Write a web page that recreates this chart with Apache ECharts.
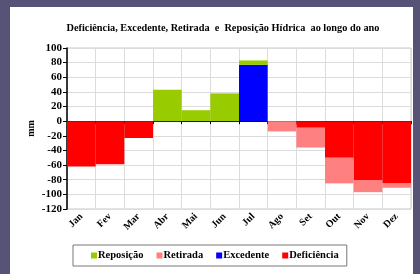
<!DOCTYPE html>
<html>
<head>
<meta charset="utf-8">
<script src="https://cdn.jsdelivr.net/npm/echarts@6/dist/echarts.min.js"></script>
<style>
  html, body { margin: 0; padding: 0; background: #575377; }
  #panel { position: absolute; left: 10px; top: 7px; width: 403px; height: 267px; background: #fff; }
  #chart { position: absolute; left: 0; top: 0; width: 420px; height: 274px; }
</style>
</head>
<body>
<div id="panel"></div>
<div id="chart"></div>
<script>
// meses
const months = ['Jan', 'Fev', 'Mar', 'Abr', 'Mai', 'Jun', 'Jul', 'Ago', 'Set', 'Out', 'Nov', 'Dez'];
// valores em mm
const reposicao = [null, null, null, 43, 15, 38, 6, null, null, null, null, null];
const excedente = [null, null, null, null, null, null, 77, null, null, null, null, null];
const deficiencia = [-62, -59, -23, null, null, null, null, null, -9, -50, -81, -85];
const retirada = [null, null, null, null, null, null, null, -14, -27, -35, -16, -6];

const serif = '"Liberation Serif", "Times New Roman", serif';

let myChart = echarts.init(document.getElementById('chart'));
myChart.setOption({
  animation: false,
  title: {
    text: 'Deficiência, Excedente, Retirada  e  Reposição Hídrica  ao longo do ano',
    left: 218,
    textAlign: 'center',
    top: 18,
    textStyle: { fontFamily: serif, fontSize: 10.3, fontWeight: 'bold', color: '#000' }
  },
  legend: {
    left: 73,
    top: 245,
    padding: [5, 8, 5, 18],
    borderColor: '#777',
    borderWidth: 1,
    itemWidth: 6,
    itemHeight: 6,
    itemGap: 13,
    icon: 'rect',
    data: ['Reposição', 'Retirada', 'Excedente', 'Deficiência'],
    textStyle: { fontFamily: serif, fontSize: 10.5, fontWeight: 'bold', color: '#000', padding: [0, 0, 0, -4] }
  },
  grid: {
    left: 67, right: 9, top: 48, bottom: 65,
    show: true, borderColor: '#c8c8c8', borderWidth: 1
  },
  xAxis: [
    {
      type: 'category',
      data: months,
      position: 'bottom',
      boundaryGap: true,
      axisLine: { show: false, onZero: false },
      axisTick: { show: false },
      splitLine: { show: true, lineStyle: { color: '#dcdcdc' } },
      axisLabel: {
        rotate: 45, margin: 6, interval: 0,
        fontFamily: serif, fontSize: 10, fontWeight: 'bold', color: '#000'
      }
    },
    {
      type: 'category',
      data: months,
      position: 'top',
      axisLine: { show: true, onZero: true, lineStyle: { color: '#000', width: 1 } },
      axisTick: { show: true, inside: true, length: 3, lineStyle: { color: '#000' } },
      axisLabel: { show: false },
      splitLine: { show: false }
    }
  ],
  yAxis: {
    type: 'value',
    min: -120, max: 100, interval: 20,
    name: 'mm',
    nameLocation: 'middle',
    nameGap: 31,
    nameRotate: 90,
    nameMoveOverlap: false,
    nameTextStyle: { fontFamily: serif, fontSize: 10, fontWeight: 'bold', color: '#000' },
    axisLine: { show: true, lineStyle: { color: '#000', width: 1.5 } },
    axisTick: { show: true, length: 4, lineStyle: { color: '#000' } },
    splitLine: { show: true, lineStyle: { color: '#dcdcdc' } },
    axisLabel: { margin: 5, fontFamily: serif, fontSize: 11, fontWeight: 'bold', color: '#000' }
  },
  series: [
    { name: 'Excedente', type: 'bar', stack: 'agua', barCategoryGap: 0, data: excedente, itemStyle: { color: '#0000ff' } },
    { name: 'Deficiência', type: 'bar', stack: 'agua', barCategoryGap: 0, data: deficiencia, itemStyle: { color: '#ff0000' } },
    { name: 'Reposição', type: 'bar', stack: 'agua', barCategoryGap: 0, data: reposicao, itemStyle: { color: '#99cc00' } },
    { name: 'Retirada', type: 'bar', stack: 'agua', barCategoryGap: 0, data: retirada, itemStyle: { color: '#ff8080' } }
  ]
});
</script>
</body>
</html>
